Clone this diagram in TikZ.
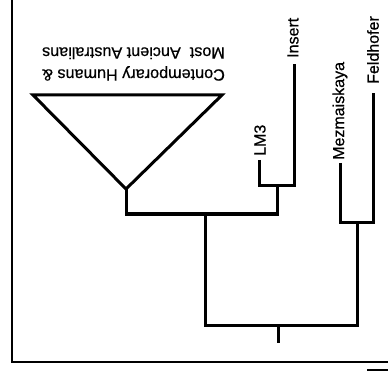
\documentclass[tikz,border=0pt]{standalone}
\usepackage{fontspec}
\setmainfont{Liberation Sans}
\newfontfamily\labelfont[AutoFakeBold=0.6]{Liberation Sans}
\begin{document}
\begin{tikzpicture}[x=1pt,y=-1pt,
  branch/.style={line width=3pt, line join=miter},
  framerule/.style={line width=1.6pt},
  leaf/.style={rotate=90, anchor=west, inner sep=0pt, font=\labelfont\bfseries\fontsize{16}{19}\selectfont},
  clade/.style={rotate=180, align=left, inner sep=0pt, font=\labelfont\bfseries\fontsize{16.2}{22}\selectfont}]
\useasboundingbox (0,0) rectangle (388,374);

% frame
\draw[framerule] (12,0) -- (12,362) -- (388,362);
\draw[framerule] (367,370) -- (388,370);

% tips and junctions
\coordinate (triL) at (33,95);
\coordinate (triR) at (222,95);
\coordinate (apex) at (126,189);
\coordinate (lm3) at (259,160);
\coordinate (ins) at (294,64);
\coordinate (mez) at (340,163);
\coordinate (feld) at (373,93);
\coordinate (jLI) at (277,186);
\coordinate (jMH) at (205,214);
\coordinate (jNe) at (357,222);
\coordinate (root) at (278,325);
\coordinate (base) at (278,343);

% labels
\node[leaf] (tInsert) at (293,58) {Insert};
\node[leaf] (tLM3) at (260,156) {LM3};
\node[leaf] (tMez) at (340,160) {Mezmaiskaya};
\node[leaf] (tFeld) at (373,84) {Feldhofer};
\node[clade] (tMH) at (133.5,64) {Contemporary Humans \&\\Most\ \ Ancient Australians};

% collapsed clade
\draw[branch] (triL) -- (triR) -- (apex) -- cycle;

% branches
\draw[branch] (lm3) -- (lm3 |- jLI) -- (ins |- jLI) -- (ins);
\draw[branch] (apex) -- (apex |- jMH) -- (jLI |- jMH) -- (jLI);
\draw[branch] (mez) -- (mez |- jNe) -- (feld |- jNe) -- (feld);
\draw[branch] (jMH) -- (jMH |- root) -- (jNe |- root) -- (jNe);
\draw[branch] (root) -- (base);
\end{tikzpicture}
\end{document}
